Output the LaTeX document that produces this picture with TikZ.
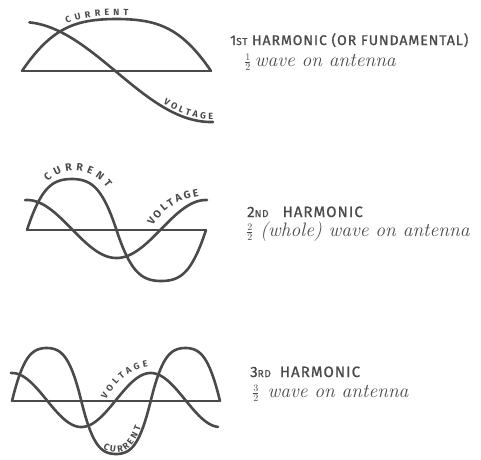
\documentclass[tikz,border=0pt]{standalone}
\usepackage{fontspec}
\setsansfont{Fira Sans}
\usepackage{xcolor}
\usetikzlibrary{decorations.text}

\definecolor{ink}{HTML}{4A4A4A}
\newcommand\capsfont{\sffamily\fontsize{14}{15}\selectfont\addfontfeature{LetterSpace=7,FakeBold=1}}
\newcommand\bigcapsfont{\sffamily\fontsize{15}{16}\selectfont\addfontfeature{LetterSpace=7,FakeBold=1}}
\newcommand\ordfont{\fontsize{10}{10}\selectfont}
\newcommand\handfont{\itshape\fontsize{19.5}{20}\selectfont\addfontfeature{FakeBold=1.6}}
\newcommand\lblfont{\sffamily\bfseries\fontsize{9}{9}\selectfont}
\newcommand\biglblfont{\sffamily\bfseries\fontsize{10.5}{10}\selectfont}

\begin{document}
\begin{tikzpicture}[x=1pt, y=-1pt,
  wave/.style={draw=ink, line width=2.6pt, line join=round, line cap=round, samples=120},
  wire/.style={draw=ink, line width=1.7pt},
  curlbl/.style n args={3}{decorate, decoration={text along path,
      text={|#3\color{ink}|#1}, text align=fit to path, raise=#2}},
  caps/.style={anchor=base west, inner sep=0pt, text=ink, font=\capsfont},
  hand/.style={anchor=base west, inner sep=0pt, text=ink, font=\handfont}
]
\useasboundingbox (0,0) rectangle (481,459);

% 1st harmonic
\draw[wire] (22,71) -- (211,71);
\draw[wave] plot[domain=0:180, variable=\t] ({22+\t*1.05},{71-52*sin(\t)*(1.7-0.7*abs(sin(\t)))});
\draw[wave] plot[domain=7:182, variable=\t] ({22+\t*1.05},{72-50*cos(\t)});
\path[curlbl={CURRENT}{3.5pt}{\lblfont}] plot[domain=44:101, samples=40, variable=\t] ({22+\t*1.05},{71-52*sin(\t)*(1.7-0.7*abs(sin(\t)))});
\path[curlbl={VOLTAGE}{3pt}{\lblfont}] plot[domain=133:182, samples=40, variable=\t] ({22+\t*1.05},{72-50*cos(\t)});
\node[caps] (h1) at (230,45) {1{\ordfont ST} HARMONIC (OR FUNDAMENTAL)};
\node[hand] (s1) at (244,66) {${\scriptstyle\frac{1}{2}}$\,wave on antenna};

% 2nd harmonic
\draw[wire] (27,230) -- (206,230);
\draw[wave] plot[domain=0:360, variable=\t] ({27+\t*0.4972},{230-51*sin(\t)*(1.7-0.7*abs(sin(\t)))});
\draw[wave] plot[domain=-4:362, variable=\t] ({27+\t*0.4972},{229-29*cos(\t)});
\path[curlbl={CURRENT}{0pt}{\biglblfont}] (48,182) .. controls (62,167) and (90,165) .. (107,188);
\path[curlbl={VOLTAGE}{0pt}{\biglblfont}] (153,226) .. controls (164,208) and (178,200) .. (199,196);
\node[caps, font=\bigcapsfont] (h2) at (247,217) {2{\ordfont ND}\hspace{14pt}HARMONIC};
\node[hand] (s2) at (246,236) {${\scriptstyle\frac{2}{2}}$ (whole) wave on antenna};

% 3rd harmonic
\draw[wire] (12,401) -- (220,401);
\draw[wave] plot[domain=0:540, variable=\t] ({12+\t*0.3852},{401-53*sin(\t)*(1.7-0.7*abs(sin(\t)))});
\draw[wave] plot[domain=-3:535, variable=\t] ({12+\t*0.3852},{400-27*cos(\t)});
\path[curlbl={VOLTAGE}{0pt}{\lblfont}] (106,399) .. controls (116,383) and (128,370) .. (148,367);
\path[curlbl={CURRENT}{2pt}{\lblfont}] plot[domain=234:340, samples=40, variable=\t] ({12+\t*0.3852},{401-53*sin(\t)*(1.7-0.7*abs(sin(\t)))});
\node[caps, font=\bigcapsfont] (h3) at (250,377) {3{\ordfont RD}\hspace{9pt}HARMONIC};
\node[hand] (s3) at (252,397) {${\scriptstyle\frac{3}{2}}$\hspace{8pt}wave on antenna};
\end{tikzpicture}
\end{document}
